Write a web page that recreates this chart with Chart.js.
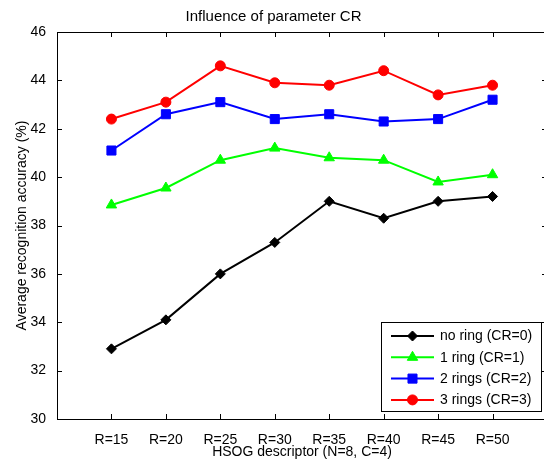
<!DOCTYPE html>
<html>
<head>
<meta charset="utf-8">
<script src="https://cdn.jsdelivr.net/npm/chart.js@4/dist/chart.umd.min.js"></script>
<style>
  html, body { margin: 0; padding: 0; background: #fff; overflow: hidden; }
  #wrap { width: 544px; height: 464px; overflow: hidden; position: relative; }
  canvas { display: block; }
</style>
</head>
<body>
<div id="wrap"><canvas id="c" width="560" height="464"></canvas></div>
<script>
// Radius settings of the HSOG descriptor (x axis)
const categories = ['R=15', 'R=20', 'R=25', 'R=30', 'R=35', 'R=40', 'R=45', 'R=50'];

// Average recognition accuracy (%) for each number of rings
const noRing     = [32.9, 34.1, 36.0, 37.3, 39.0, 38.3, 39.0, 39.2];
const oneRing    = [38.85, 39.55, 40.7, 41.2, 40.8, 40.7, 39.8, 40.1];
const twoRings   = [41.1, 42.6, 43.1, 42.4, 42.6, 42.3, 42.4, 43.2];
const threeRings = [42.4, 43.1, 44.6, 43.9, 43.8, 44.4, 43.4, 43.8];

const seriesLabels = ['no ring (CR=0)', '1 ring (CR=1)', '2 rings (CR=2)', '3 rings (CR=3)'];
const yTicks = [30, 32, 34, 36, 38, 40, 42, 44, 46];

const FONT = '"Liberation Sans", Arial, Helvetica, sans-serif';

// categories sit at positions 1..8 on a 0..9 axis
const toPoints = arr => arr.map((v, i) => ({ x: i + 1, y: v }));

function series(label, data, color, style, radius) {
  return {
    label, data: toPoints(data),
    borderColor: color, backgroundColor: color,
    borderWidth: 2, tension: 0,
    pointStyle: style, pointRadius: radius, pointHoverRadius: radius,
    pointBorderWidth: 1, pointBorderColor: color, pointBackgroundColor: color
  };
}

// MATLAB-like box with inward ticks on all four sides
const framePlugin = {
  id: 'frame',
  afterDatasetsDraw(chart) {
    const { ctx, chartArea: a, scales: { x, y } } = chart;
    const L = 5;
    ctx.save();
    ctx.strokeStyle = '#000';
    ctx.lineWidth = 1;
    ctx.beginPath();
    ctx.moveTo(a.left, Math.round(a.top) + 0.5);
    ctx.lineTo(a.right, Math.round(a.top) + 0.5);
    ctx.moveTo(Math.round(a.right) - 0.5, a.top);
    ctx.lineTo(Math.round(a.right) - 0.5, a.bottom);
    categories.forEach((c, i) => {
      const px = Math.round(x.getPixelForValue(i + 1)) + 0.5;
      ctx.moveTo(px, a.bottom); ctx.lineTo(px, a.bottom - L);
      ctx.moveTo(px, a.top); ctx.lineTo(px, a.top + L);
    });
    yTicks.forEach(v => {
      const py = Math.round(y.getPixelForValue(v)) + 0.5;
      ctx.moveTo(a.left, py); ctx.lineTo(a.left + L, py);
      ctx.moveTo(a.right, py); ctx.lineTo(a.right - L, py);
    });
    ctx.stroke();
    ctx.restore();
  }
};

// Legend box in the lower right corner of the axes
const legendPlugin = {
  id: 'boxLegend',
  afterDraw(chart) {
    const ctx = chart.ctx;
    const x0 = 381.5, y0 = 322.5, w = 160, h = 89;
    ctx.save();
    ctx.fillStyle = '#fff';
    ctx.fillRect(x0, y0, w, h);
    ctx.strokeStyle = '#000';
    ctx.lineWidth = 1;
    ctx.strokeRect(x0, y0, w, h);
    chart.data.datasets.forEach((ds, i) => {
      const yy = 336 + i * 21.3;
      ctx.strokeStyle = ds.borderColor;
      ctx.lineWidth = 2;
      ctx.beginPath();
      ctx.moveTo(391, yy);
      ctx.lineTo(434, yy);
      ctx.stroke();
      ctx.fillStyle = ds.backgroundColor;
      ctx.lineWidth = 1;
      Chart.helpers.drawPoint(ctx, { pointStyle: ds.pointStyle, radius: ds.pointRadius, rotation: 0, borderWidth: 1 }, 412.5, yy);
      ctx.fillStyle = '#000';
      ctx.font = '14px ' + FONT;
      ctx.textAlign = 'left';
      ctx.textBaseline = 'middle';
      ctx.fillText(ds.label, 440, yy + 0.5);
    });
    ctx.restore();
  }
};

new Chart(document.getElementById('c'), {
  type: 'line',
  data: {
    datasets: [
      series(seriesLabels[0], noRing, '#000000', 'rectRot', 5),
      series(seriesLabels[1], oneRing, '#00ff00', 'triangle', 6),
      series(seriesLabels[2], twoRings, '#0000ff', 'rect', 6.4),
      series(seriesLabels[3], threeRings, '#ff0000', 'circle', 5)
    ]
  },
  options: {
    responsive: false,
    devicePixelRatio: 1,
    animation: false,
    layout: { padding: { left: 0, right: 13, top: 0, bottom: 0 } },
    plugins: {
      legend: { display: false },
      tooltip: { enabled: false },
      title: {
        display: true,
        text: 'Influence of parameter CR',
        color: '#000',
        font: { family: FONT, size: 15, weight: 'normal' },
        padding: { top: 7.5, bottom: 6.5 }
      }
    },
    scales: {
      x: {
        type: 'linear',
        min: 0, max: 9,
        grid: { display: false },
        border: { display: true, color: '#000', width: 1 },
        afterBuildTicks(scale) { scale.ticks = categories.map((c, i) => ({ value: i + 1 })); },
        ticks: {
          color: '#000',
          font: { family: FONT, size: 14 },
          padding: 5,
          maxRotation: 0,
          autoSkip: false,
          callback: v => categories[v - 1]
        },
        title: {
          display: true,
          text: 'HSOG descriptor (N=8, C=4)',
          color: '#000',
          font: { family: FONT, size: 14 },
          padding: { top: 0, bottom: 3.6 }
        },
        afterFit(scale) { scale.height = 45; }
      },
      y: {
        min: 30, max: 46,
        grid: { display: false },
        border: { display: true, color: '#000', width: 1 },
        afterBuildTicks(scale) { scale.ticks = yTicks.map(v => ({ value: v })); },
        ticks: {
          color: '#000',
          font: { family: FONT, size: 14 },
          padding: 3
        },
        title: {
          display: true,
          text: 'Average recognition accuracy (%)',
          color: '#000',
          font: { family: FONT, size: 14 },
          padding: { top: 13.6, bottom: 0 }
        },
        afterFit(scale) { scale.width = 57; }
      }
    }
  },
  plugins: [framePlugin, legendPlugin]
});
</script>
</body>
</html>
